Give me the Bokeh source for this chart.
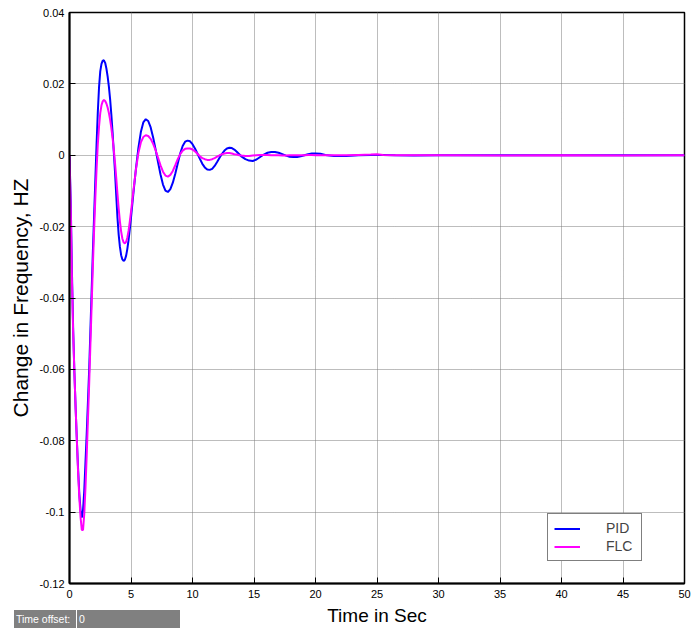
from bokeh.plotting import figure
from bokeh.models import (Range1d, FixedTicker, Legend, LegendItem, ColumnDataSource, Div)
from bokeh.layouts import column
from bokeh.embed import file_html
from bokeh.resources import INLINE

# ---- data ----
time_s = [0.0, 0.1, 0.2, 0.3, 0.4, 0.5, 0.6, 0.7, 0.8, 0.9,
          1.0, 1.1, 1.2, 1.3, 1.4, 1.5, 1.6, 1.7, 1.8, 1.9,
          2.0, 2.1, 2.2, 2.3, 2.4, 2.5, 2.6, 2.7, 2.8, 2.9,
          3.0, 3.1, 3.2, 3.3, 3.4, 3.5, 3.6, 3.7, 3.8, 3.9,
          4.0, 4.1, 4.2, 4.3, 4.4, 4.5, 4.6, 4.7, 4.8, 4.9,
          5.0, 5.2, 5.4, 5.6, 5.8, 6.0, 6.2, 6.4, 6.6, 6.8,
          7.0, 7.2, 7.4, 7.6, 7.8, 8.0, 8.2, 8.4, 8.6, 8.8,
          9.0, 9.2, 9.4, 9.6, 9.8, 10.0, 10.2, 10.4, 10.6, 10.8,
          11.0, 11.2, 11.4, 11.6, 11.8, 12.0, 12.2, 12.4, 12.6, 12.8,
          13.0, 13.2, 13.4, 13.6, 13.8, 14.0, 14.3, 14.6, 14.9, 15.2,
          15.5, 15.8, 16.1, 16.4, 16.7, 17.0, 17.3, 17.6, 17.9, 18.2,
          18.5, 18.8, 19.1, 19.4, 19.7, 20.0, 20.4, 20.8, 21.5, 22.5,
          23.5, 24.5, 25.0, 25.5, 26.5, 28.0, 30.0, 35.0, 40.0, 45.0,
          50.0]

pid = [0.0, -0.013, -0.033, -0.049, -0.061, -0.071, -0.080, -0.088, -0.095, -0.0995,
       -0.1015, -0.0995, -0.094, -0.086, -0.078, -0.069, -0.060, -0.049, -0.038, -0.027,
       -0.017, -0.007, 0.003, 0.012, 0.019, 0.0235, 0.0256, 0.0265, 0.0266, 0.0259,
       0.0243, 0.0221, 0.0193, 0.0158, 0.0115, 0.0065, 0.0010, -0.0047, -0.0112, -0.0175,
       -0.0223, -0.0257, -0.0280, -0.0292, -0.0296, -0.0293, -0.0282, -0.0263, -0.0238, -0.0208,
       -0.0175, -0.0105, -0.0038, 0.0020, 0.0065, 0.0092, 0.0101, 0.0096, 0.0078, 0.0050,
       0.0016, -0.0020, -0.0054, -0.0082, -0.0099, -0.0103, -0.0095, -0.0077, -0.0052, -0.0023,
       0.0005, 0.0026, 0.0038, 0.0041, 0.0039, 0.0031, 0.0019, 0.0005, -0.0010, -0.0024,
       -0.0034, -0.0040, -0.0041, -0.0038, -0.0030, -0.0019, -0.0007, 0.0004, 0.0013, 0.0019,
       0.0021, 0.0020, 0.0016, 0.0010, 0.0003, -0.0004, -0.0011, -0.0015, -0.0016, -0.0012,
       -0.0005, 0.0002, 0.0007, 0.0009, 0.0009, 0.0007, 0.0003, -0.0001, -0.0004, -0.0005,
       -0.0005, -0.0003, 0.0000, 0.0003, 0.0005, 0.0005, 0.0004, 0.0001, -0.0002, -0.0002,
       0.0000, 0.0001, 0.0001, 0.0001, 0.0000, -0.0001, 0.0000, 0.0000, 0.0000, 0.0000,
       0.0000]

flc = [0.0, -0.015, -0.035, -0.050, -0.061, -0.071, -0.080, -0.089, -0.096, -0.1015,
       -0.1050, -0.1050, -0.1005, -0.093, -0.084, -0.074, -0.064, -0.053, -0.042, -0.031,
       -0.021, -0.012, -0.004, 0.003, 0.008, 0.0118, 0.0140, 0.0151, 0.0155, 0.0152,
       0.0145, 0.0134, 0.0119, 0.0100, 0.0077, 0.0049, 0.0016, -0.0021, -0.0063, -0.0108,
       -0.0150, -0.0186, -0.0214, -0.0234, -0.0244, -0.0247, -0.0243, -0.0231, -0.0212, -0.0187,
       -0.0159, -0.0098, -0.0040, 0.0006, 0.0036, 0.0051, 0.0056, 0.0054, 0.0046, 0.0032,
       0.0014, -0.0007, -0.0028, -0.0046, -0.0057, -0.0060, -0.0055, -0.0044, -0.0028, -0.0011,
       0.0003, 0.0013, 0.0018, 0.0019, 0.0019, 0.0016, 0.0011, 0.0004, -0.0003, -0.0008,
       -0.0011, -0.0013, -0.0013, -0.0011, -0.0008, -0.0004, 0.0000, 0.0003, 0.0005, 0.0006,
       0.0006, 0.0005, 0.0003, 0.0002, 0.0000, -0.0001, -0.0002, -0.0002, -0.0001, 0.0000,
       0.0001, 0.0001, 0.0001, 0.0000, 0.0000, 0.0000, -0.0001, -0.0001, 0.0000, 0.0000,
       0.0000, 0.0000, 0.0000, 0.0001, 0.0001, 0.0000, 0.0000, 0.0000, 0.0000, 0.0000,
       0.0001, 0.0002, 0.0003, 0.0001, 0.0000, 0.0000, 0.0000, -0.0001, 0.0000, -0.0001,
       0.0000]

x_ticks = [0, 5, 10, 15, 20, 25, 30, 35, 40, 45, 50]
x_tick_labels = ["0", "5", "10", "15", "20", "25", "30", "35", "40", "45", "50"]
y_ticks = [0.04, 0.02, 0, -0.02, -0.04, -0.06, -0.08, -0.1, -0.12]
y_tick_labels = ["0.04", "0.02", "0", "-0.02", "-0.04", "-0.06", "-0.08", "-0.1", "-0.12"]
series_names = ["PID", "FLC"]
offset_caption = "Time offset:"
offset_value = "0"

FONT = "Liberation Sans"

src = ColumnDataSource(dict(t=time_s, pid=pid, flc=flc))

p = figure(width=700, height=628, output_backend="svg", toolbar_location=None,
           x_range=Range1d(0, 50), y_range=Range1d(-0.12, 0.04),
           min_border_left=69, min_border_right=16, min_border_top=12, min_border_bottom=44)
p.background_fill_color = "white"
p.border_fill_color = "white"
p.outline_line_color = "black"
p.outline_line_width = 1.5

r_pid = p.line("t", "pid", source=src, line_color="#0000ff", line_width=2)
r_flc = p.line("t", "flc", source=src, line_color="#ff00ff", line_width=2)

for ax in (p.xaxis[0], p.yaxis[0]):
    ax.axis_line_width = 2
    ax.axis_line_color = "black"
    ax.major_tick_in = 6
    ax.major_tick_out = 0
    ax.major_tick_line_color = "black"
    ax.minor_tick_line_color = None
    ax.major_label_text_font = FONT
    ax.major_label_text_font_size = "11px"
    ax.major_label_text_color = "black"
    ax.axis_label_text_font = FONT
    ax.axis_label_text_font_style = "normal"
    ax.axis_label_text_color = "black"

p.xaxis[0].ticker = FixedTicker(ticks=x_ticks)
p.xaxis[0].major_label_overrides = dict(zip(x_ticks, x_tick_labels))
p.xaxis[0].major_label_standoff = 6
p.xaxis[0].axis_label = "Time in Sec"
p.xaxis[0].axis_label_text_font_size = "19px"
p.xaxis[0].axis_label_standoff = 4

p.yaxis[0].ticker = FixedTicker(ticks=y_ticks)
p.yaxis[0].major_label_overrides = dict(zip(y_ticks, y_tick_labels))
p.yaxis[0].major_label_standoff = 5
p.yaxis[0].axis_label = "Change in Frequency, HZ"
p.yaxis[0].axis_label_text_font_size = "21px"
p.yaxis[0].axis_label_standoff = 4

for g in (p.xgrid[0], p.ygrid[0]):
    g.grid_line_color = "#7a7a7a"
    g.grid_line_dash = "1 1"
    g.grid_line_width = 1

legend = Legend(items=[LegendItem(label=series_names[0], renderers=[r_pid]),
                       LegendItem(label=series_names[1], renderers=[r_flc])],
                location=(478, 22), padding=6, spacing=2, margin=0,
                glyph_width=26, glyph_height=15, label_height=15,
                label_standoff=26, label_width=29,
                label_text_font=FONT, label_text_font_size="14px",
                border_line_color="black", border_line_width=1,
                background_fill_color="white", background_fill_alpha=1)
p.add_layout(legend, "center")

# "Time offset" strip, laid over the bottom-left corner of the figure
strip_html = (
    '<div style="width:166px;height:18px;background:#808080;color:#ffffff;'
    'font-family:\'Liberation Sans\';font-size:10.5px;line-height:18px;'
    'display:flex;white-space:nowrap;margin:0;padding:0;">'
    '<span style="display:inline-block;width:63px;padding-left:2px;'
    'border-right:1px solid #ffffff;">' + offset_caption + '</span>'
    '<span style="display:inline-block;padding-left:2px;">' + offset_value + '</span>'
    '</div>'
)
strip = Div(text=strip_html, width=166, height=18, margin=(-18, 0, 0, 14))

layout = column(p, strip, spacing=0)

open("out.html", "w").write(file_html(layout, INLINE))
